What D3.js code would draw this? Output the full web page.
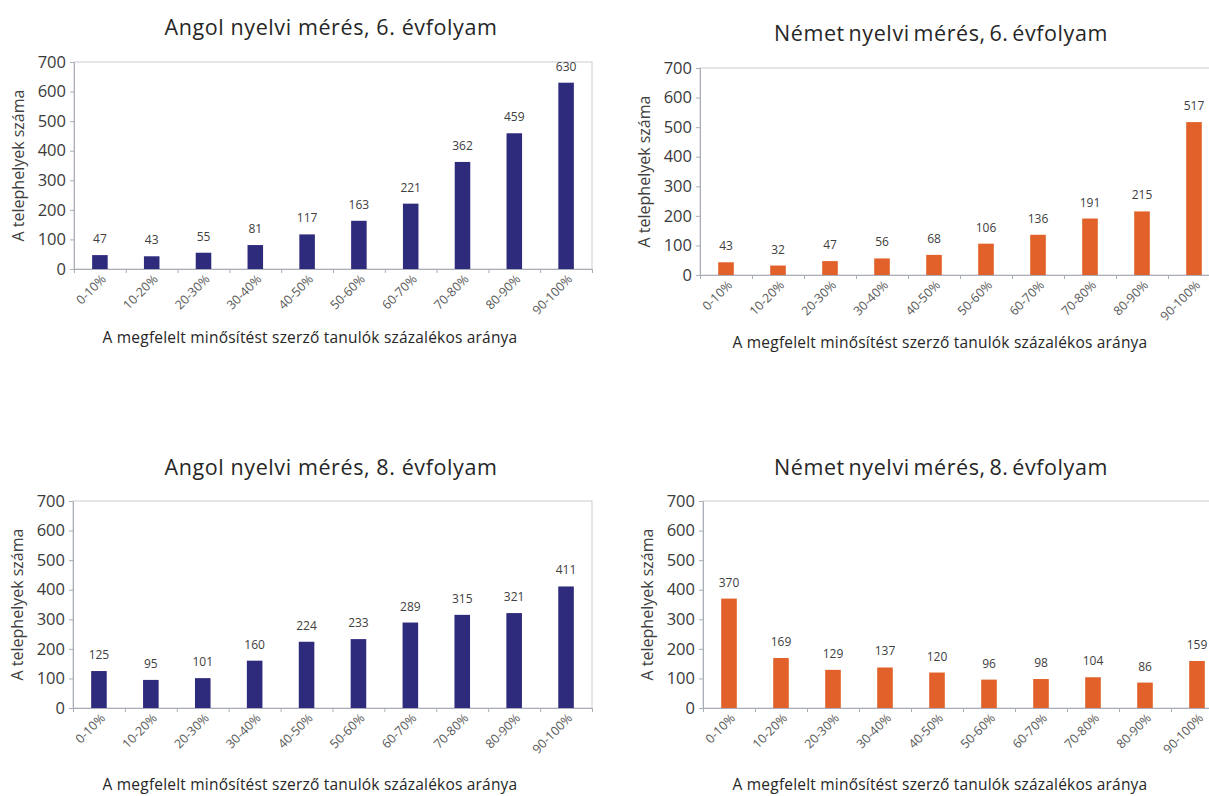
<!DOCTYPE html>
<html>
<head>
<meta charset="utf-8">
<script src="https://cdn.jsdelivr.net/npm/d3@7"></script>
<style>
    body { margin: 0; background: #fff; }
    text { font-family: "Open Sans", sans-serif; }
    .frame { fill: none; stroke: #c8ccd4; stroke-width: 1; }
    .axis path, .axis line { stroke: #a9adb5; }
</style>
</head>
<body>
<svg width="1209" height="796"></svg>
<script>
// chart data
var categories = ["0-10%", "10-20%", "20-30%", "30-40%", "40-50%", "50-60%", "60-70%", "70-80%", "80-90%", "90-100%"];
var angol6 = [47, 43, 55, 81, 117, 163, 221, 362, 459, 630];
var nemet6 = [43, 32, 47, 56, 68, 106, 136, 191, 215, 517];
var angol8 = [125, 95, 101, 160, 224, 233, 289, 315, 321, 411];
var nemet8 = [370, 169, 129, 137, 120, 96, 98, 104, 86, 159];
var yTicks = [0, 100, 200, 300, 400, 500, 600, 700];
var titles = ["Angol nyelvi mérés, 6. évfolyam", "Német nyelvi mérés, 6. évfolyam",
              "Angol nyelvi mérés, 8. évfolyam", "Német nyelvi mérés, 8. évfolyam"];
var yTitle = "A telephelyek száma";
var xTitle = "A megfelelt minősítést szerző tanulók százalékos aránya";

var navy = "#2f2b7c", orange = "#e2612a";

// layout of the four panels
var panels = [
    { title: titles[0], values: angol6, color: navy,   left: 74,  right: 592,  top: 62,  bottom: 269, tx: 331, ty: 35,  xtx: 310, xty: 343, ws: 0 },
    { title: titles[1], values: nemet6, color: orange, left: 700, right: 1220, top: 68,  bottom: 275, tx: 941, ty: 41,  xtx: 940, xty: 348, ws: -2.5 },
    { title: titles[2], values: angol8, color: navy,   left: 73,  right: 592,  top: 501, bottom: 708, tx: 331, ty: 475, xtx: 310, xty: 790, ws: 0 },
    { title: titles[3], values: nemet8, color: orange, left: 703, right: 1223, top: 501, bottom: 708, tx: 941, ty: 475, xtx: 940, xty: 790, ws: -2.5 }
];

var svg = d3.select("svg");

panels.forEach(function(p) {
    var g = svg.append("g");

    var x = d3.scaleBand()
        .domain(categories)
        .range([p.left, p.right])
        .paddingInner(0.7)
        .paddingOuter(0.35);

    var y = d3.scaleLinear()
        .domain([0, 700])
        .range([p.bottom, p.top]);

    // plot frame (top and right edges)
    g.append("rect")
        .attr("class", "frame")
        .attr("x", p.left)
        .attr("y", p.top)
        .attr("width", p.right - p.left)
        .attr("height", p.bottom - p.top);

    // y axis
    g.append("g")
        .attr("class", "axis")
        .attr("transform", "translate(" + p.left + ",0)")
        .call(d3.axisLeft(y).tickValues(yTicks).tickSize(4).tickPadding(4).tickSizeOuter(0))
        .call(function(a) {
            a.selectAll("text")
                .attr("fill", "#3a3a3a")
                .style("font-size", "16.5px");
        });

    // x axis: tick marks between categories
    var edges = d3.scaleLinear().domain([0, categories.length]).range([p.left, p.right]);
    g.append("g")
        .attr("class", "axis")
        .attr("transform", "translate(0," + p.bottom + ")")
        .call(d3.axisBottom(edges).ticks(categories.length).tickSize(4).tickSizeOuter(0).tickFormat(""));

    // category labels, rotated
    g.selectAll(".cat")
        .data(categories)
        .enter().append("text")
        .attr("class", "cat")
        .attr("text-anchor", "end")
        .attr("fill", "#595959")
        .style("font-size", "12.5px")
        .attr("transform", function(d) {
            return "translate(" + (x(d) + x.bandwidth() / 2 + 7) + "," + (p.bottom + 11) + ") rotate(-45)";
        })
        .text(function(d) { return d; });

    // bars
    g.selectAll(".bar")
        .data(p.values)
        .enter().append("rect")
        .attr("class", "bar")
        .attr("x", function(d, i) { return x(categories[i]); })
        .attr("y", function(d) { return y(d); })
        .attr("width", x.bandwidth())
        .attr("height", function(d) { return y(0) - y(d); })
        .attr("fill", p.color);

    // value labels
    g.selectAll(".val")
        .data(p.values)
        .enter().append("text")
        .attr("class", "val")
        .attr("text-anchor", "middle")
        .attr("fill", "#404040")
        .style("font-size", "12px")
        .attr("x", function(d, i) { return x(categories[i]) + x.bandwidth() / 2; })
        .attr("y", function(d) { return y(d) - 12; })
        .text(function(d) { return d; });

    // chart title
    g.append("text")
        .attr("x", p.tx)
        .attr("y", p.ty)
        .attr("text-anchor", "middle")
        .attr("fill", "#262626")
        .style("font-size", "21.5px")
        .style("letter-spacing", "0.6px")
        .style("word-spacing", p.ws + "px")
        .text(p.title);

    // y axis title
    g.append("text")
        .attr("transform", "translate(" + (p.left - 50) + "," + ((p.top + p.bottom) / 2) + ") rotate(-90)")
        .attr("text-anchor", "middle")
        .attr("fill", "#404040")
        .style("font-size", "16px")
        .text(yTitle);

    // x axis title
    g.append("text")
        .attr("x", p.xtx)
        .attr("y", p.xty)
        .attr("text-anchor", "middle")
        .attr("fill", "#262626")
        .style("font-size", "15.5px")
        .style("letter-spacing", "0.2px")
        .text(xTitle);
});
</script>
</body>
</html>
